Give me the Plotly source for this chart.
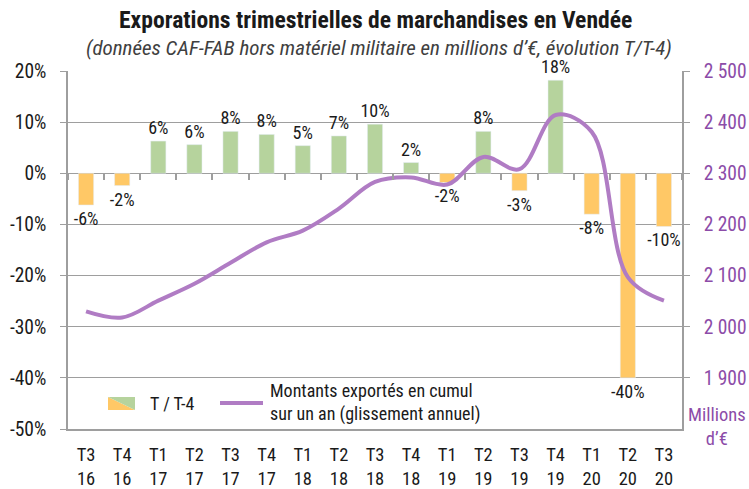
import plotly.graph_objects as go

categories = ["T3<br>16", "T4<br>16", "T1<br>17", "T2<br>17", "T3<br>17", "T4<br>17",
              "T1<br>18", "T2<br>18", "T3<br>18", "T4<br>18", "T1<br>19", "T2<br>19",
              "T3<br>19", "T4<br>19", "T1<br>20", "T2<br>20", "T3<br>20"]
evolution_pct = [-6.2, -2.4, 6.3, 5.6, 8.2, 7.6, 5.4, 7.3, 9.6, 2.1, -1.8, 8.2,
                 -3.4, 18.2, -8.0, -40.0, -10.4]
cumul_meur = [2030, 2018, 2051, 2084, 2125, 2165, 2188, 2231, 2283, 2292, 2278, 2332,
              2308, 2414, 2381, 2097, 2051]
left_ticks = [-50, -40, -30, -20, -10, 0, 10, 20]
left_ticktext = ["-50%", "-40%", "-30%", "-20%", "-10%", "0%", "10%", "20%"]
right_ticks = [1900, 2000, 2100, 2200, 2300, 2400, 2500]
right_ticktext = ["1 900", "2 000", "2 100", "2 200", "2 300", "2 400", "2 500"]

FONT = "Roboto Condensed, Liberation Sans Narrow, Roboto, sans-serif"
ORANGE = "#FFC866"
GREEN = "#B6D39D"
PURPLE_LINE = "#B07CC4"
PURPLE_TXT = "#8C4CA8"
GRID = "#9E9E9E"

bar_colors = [ORANGE if v < 0 else GREEN for v in evolution_pct]
bar_text = [f"{v:.0f}%" for v in evolution_pct]

fig = go.Figure()
fig.add_trace(go.Bar(
    x=categories, y=evolution_pct, marker_color=bar_colors, width=0.42,
    text=bar_text, texttemplate="%{text}", textposition="outside", cliponaxis=False,
    constraintext="none",
    textfont=dict(family=FONT, size=18, color="#1a1a1a"),
    showlegend=False, yaxis="y",
))
fig.add_trace(go.Scatter(
    x=categories, y=cumul_meur, mode="lines",
    line=dict(color=PURPLE_LINE, width=4, shape="spline", smoothing=1.0),
    showlegend=False, yaxis="y2",
))
# helper (empty) trace for the category tick axis on the zero line
fig.add_trace(go.Scatter(x=[], y=[], xaxis="x2", yaxis="y", showlegend=False))

ymin, ymax = -50, 20
fig.update_layout(
    width=749, height=489,
    margin=dict(l=68, r=67, t=71, b=60, autoexpand=False),
    paper_bgcolor="white", plot_bgcolor="white",
    font=dict(family=FONT, size=18, color="#1a1a1a"),
    xaxis=dict(type="category", showline=True, linecolor=GRID, linewidth=1.5,
               ticks="", showgrid=False, tickfont=dict(size=18.5, color="#1a1a1a"),
               automargin=False, ticklabelstandoff=8),
    xaxis2=dict(overlaying="x", anchor="free", position=(0 - ymin) / (ymax - ymin),
                range=[-0.5, len(categories) - 0.5], tick0=-0.5, dtick=1,
                showline=False, ticks="outside", ticklen=6, tickcolor=GRID, tickwidth=1.5,
                showticklabels=False, showgrid=False, zeroline=False, side="bottom",
                automargin=False),
    yaxis=dict(range=[ymin, ymax], tickvals=left_ticks, ticktext=left_ticktext,
               showgrid=True, gridcolor=GRID, gridwidth=1.2, zeroline=False,
               showline=True, linecolor=GRID, linewidth=1.5, ticks="outside", ticklen=6,
               tickcolor=GRID, tickfont=dict(size=19.5, color="#1a1a1a"),
               automargin=False, ticklabelstandoff=10),
    yaxis2=dict(overlaying="y", side="right", range=[1800, 2500], tickvals=right_ticks,
                ticktext=right_ticktext, showgrid=False, zeroline=False,
                showline=True, linecolor=GRID, linewidth=1.5, ticks="outside", ticklen=6,
                tickcolor=GRID, tickfont=dict(size=19.5, color=PURPLE_TXT),
                automargin=False, ticklabelstandoff=10),
)

def px(x):
    return (x - 68) / 614

def py(y):
    return (429 - y) / 358

# Title and subtitle
fig.add_annotation(text="<b>Exporations trimestrielles de marchandises en Vendée</b>",
                   xref="paper", yref="paper", x=px(375), y=py(20),
                   xanchor="center", yanchor="middle", showarrow=False,
                   font=dict(family=FONT, size=23.6, color="#1a1a1a"))
fig.add_annotation(text="<i>(données CAF-FAB hors matériel militaire en millions d’€, évolution T/T-4)</i>",
                   xref="paper", yref="paper", x=px(379), y=py(48),
                   xanchor="center", yanchor="middle", showarrow=False,
                   font=dict(family=FONT, size=21, color="#404040"))
# Right axis unit
fig.add_annotation(text="Millions<br>d’€", xref="paper", yref="paper",
                   x=px(717), y=py(427), xanchor="center", yanchor="middle",
                   showarrow=False, font=dict(family=FONT, size=18.5, color=PURPLE_TXT))

# Manual legend
x0, x1, yt, yb = px(108), px(135), py(397), py(410)
fig.add_shape(type="path", xref="paper", yref="paper",
              path=f"M {x0} {yb} L {x1} {yb} L {x0} {yt} Z", fillcolor=ORANGE, line=dict(width=0))
fig.add_shape(type="path", xref="paper", yref="paper",
              path=f"M {x0} {yt} L {x1} {yt} L {x1} {yb} Z", fillcolor=GREEN, line=dict(width=0))
fig.add_annotation(text="T / T-4", xref="paper", yref="paper", x=px(148), y=py(403),
                   xanchor="left", yanchor="middle", showarrow=False,
                   font=dict(family=FONT, size=18, color="#1a1a1a"))
fig.add_shape(type="line", xref="paper", yref="paper", x0=px(220), x1=px(263), y0=py(403), y1=py(403),
              line=dict(color=PURPLE_LINE, width=4))
fig.add_annotation(text="Montants exportés en cumul<br>sur un an (glissement annuel)",
                   xref="paper", yref="paper", x=px(268), y=py(402), align="left",
                   xanchor="left", yanchor="middle", showarrow=False,
                   font=dict(family=FONT, size=18, color="#1a1a1a"))

fig.write_html("out.html", config={"displayModeBar": False},
               post_script="document.body.style.margin='0px';document.body.style.padding='0px';document.body.style.overflow='hidden';")
